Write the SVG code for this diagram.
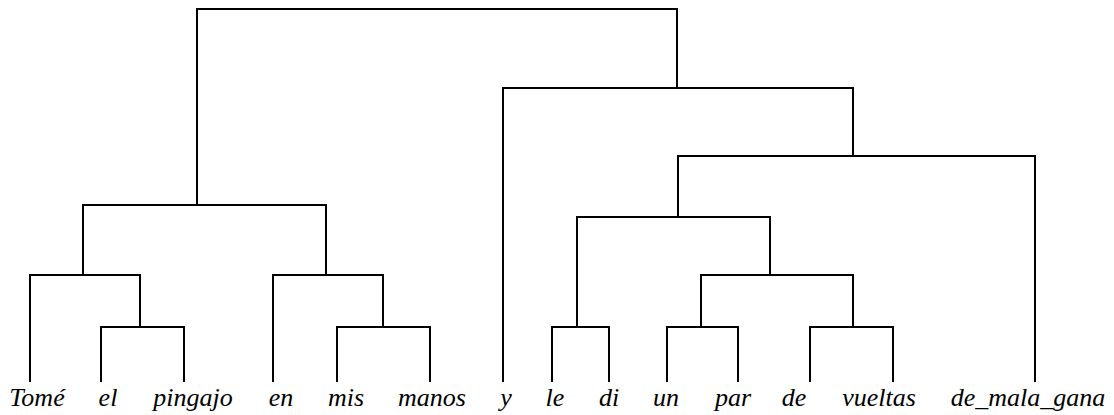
<svg xmlns="http://www.w3.org/2000/svg" width="1114" height="415" viewBox="0 0 1114 415">
<style>
.e{fill:none;stroke:#000;stroke-width:2;stroke-linecap:square}
.w{font-family:'Liberation Serif','Times New Roman',serif;font-style:italic;font-size:26px;fill:#000;text-anchor:middle}
</style>
<rect width="1114" height="415" fill="#fff"/>
<g id="connectors">
<path class="e" d="M197,205 V9 H677 V88"/>
<path class="e" d="M83,275 V205 H326 V275"/>
<path class="e" d="M30,381 V275 H140 V327"/>
<path class="e" d="M101,381 V327 H184 V381"/>
<path class="e" d="M273,381 V275 H383 V327"/>
<path class="e" d="M337,381 V327 H430 V381"/>
<path class="e" d="M503,381 V88 H853 V156"/>
<path class="e" d="M678,217 V156 H1035 V381"/>
<path class="e" d="M577,327 V217 H770 V275"/>
<path class="e" d="M552,381 V327 H609 V381"/>
<path class="e" d="M701,327 V275 H853 V327"/>
<path class="e" d="M667,381 V327 H738 V381"/>
<path class="e" d="M810,381 V327 H893 V381"/>
</g>
<g id="n-tome"><text class="w" x="37" y="406">Tomé</text></g>
<g id="n-el"><text class="w" x="108" y="406">el</text></g>
<g id="n-pingajo"><text class="w" x="193" y="406">pingajo</text></g>
<g id="n-en"><text class="w" x="281" y="406">en</text></g>
<g id="n-mis"><text class="w" x="346" y="406">mis</text></g>
<g id="n-manos"><text class="w" x="432" y="406">manos</text></g>
<g id="n-y"><text class="w" x="506" y="406">y</text></g>
<g id="n-le"><text class="w" x="555" y="406">le</text></g>
<g id="n-di"><text class="w" x="609" y="406">di</text></g>
<g id="n-un"><text class="w" x="666" y="406">un</text></g>
<g id="n-par"><text class="w" x="733" y="406">par</text></g>
<g id="n-de"><text class="w" x="794" y="406">de</text></g>
<g id="n-vueltas"><text class="w" x="879" y="406">vueltas</text></g>
<g id="n-de_mala_gana"><text class="w" x="1028" y="406">de_mala_gana</text></g>
</svg>
